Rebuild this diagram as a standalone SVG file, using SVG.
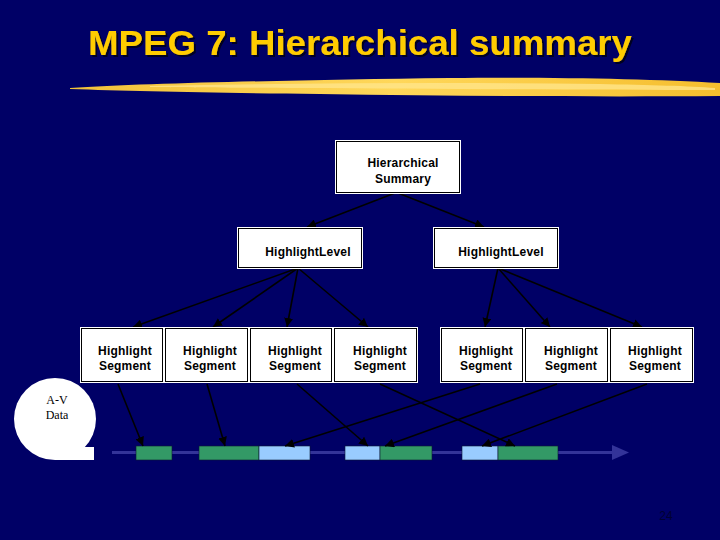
<svg xmlns="http://www.w3.org/2000/svg" width="720" height="540" viewBox="0 0 720 540">
<defs>
<style>
.box-o{fill:#fff;}
.box-i{fill:#fff;stroke:#000;stroke-width:1;}
.lbl{font-family:"Liberation Sans",Arial,sans-serif;font-size:12px;font-weight:bold;fill:#000;text-anchor:middle;letter-spacing:0.2px;}
.con{stroke:#000;stroke-width:1.6;fill:none;marker-end:url(#ah);}
.g{fill:#339966;stroke:#0a1a33;stroke-width:0.6;}
.b{fill:#99CCFF;stroke:#0a1a33;stroke-width:0.6;}
.av{font-family:"Liberation Serif","Times New Roman",serif;font-size:12px;fill:#000;text-anchor:middle;}
</style>
<marker id="ah" viewBox="0 0 10 10" refX="10" refY="5" markerWidth="9" markerHeight="9" markerUnits="userSpaceOnUse" orient="auto">
<path d="M0,0 L10,5 L0,10 Z" fill="#000"/>
</marker>
<filter id="shadow" x="-5%" y="-20%" width="110%" height="150%">
<feDropShadow dx="2" dy="2" stdDeviation="0.5" flood-color="#000022" flood-opacity="1"/>
</filter>
<linearGradient id="brush" x1="0" y1="0" x2="1" y2="0">
<stop offset="0" stop-color="#F2C23A"/>
<stop offset="0.5" stop-color="#FFD75A"/>
<stop offset="1" stop-color="#F5BE2E"/>
</linearGradient>
</defs>
<rect x="0" y="0" width="720" height="540" fill="#000066"/>

<g id="title">
<text x="88" y="55" font-family="'Liberation Sans',Arial,sans-serif" font-size="35" font-weight="bold" fill="#FFCC00" textLength="544" lengthAdjust="spacingAndGlyphs" filter="url(#shadow)">MPEG 7: Hierarchical summary</text>
</g>
<g id="brush-stroke">
<path d="M70,88 C150,83 300,80 450,78 C560,77 650,79 720,83 L720,96 C600,97 460,96 320,94 C210,93 130,91 70,89 Z" fill="url(#brush)"/>
<path d="M150,86 C300,83 450,82 600,84 C650,85 690,86 715,88 L715,90 C600,90 450,89 300,88 C230,88 180,87 150,87 Z" fill="#FFE58A" opacity="0.8"/>
</g>

<g id="connectors">
<line class="con" x1="395" y1="193" x2="307" y2="227"/>
<line class="con" x1="398" y1="193" x2="484" y2="227"/>
<line class="con" x1="298" y1="268" x2="133" y2="327"/>
<line class="con" x1="298" y1="268" x2="213" y2="327"/>
<line class="con" x1="298" y1="268" x2="287" y2="327"/>
<line class="con" x1="298" y1="268" x2="368" y2="327"/>
<line class="con" x1="498" y1="268" x2="485" y2="327"/>
<line class="con" x1="498" y1="268" x2="550" y2="327"/>
<line class="con" x1="498" y1="268" x2="642" y2="327"/>
</g>

<g id="hierarchical-summary">
<rect class="box-o" x="335" y="140" width="126" height="54"/>
<rect class="box-i" x="336.5" y="141.5" width="123" height="51"/>
<text class="lbl" x="403" y="167">Hierarchical</text>
<text class="lbl" x="403" y="183">Summary</text>
</g>
<g id="level-1">
<rect class="box-o" x="237" y="227" width="126" height="42"/>
<rect class="box-i" x="238.5" y="228.5" width="123" height="39"/>
<text class="lbl" x="308" y="256">HighlightLevel</text>
</g>
<g id="level-2">
<rect class="box-o" x="433" y="227" width="126" height="42"/>
<rect class="box-i" x="434.5" y="228.5" width="123" height="39"/>
<text class="lbl" x="501" y="256">HighlightLevel</text>
</g>

<g id="segment-1">
<rect class="box-o" x="80" y="327" width="84" height="56"/>
<rect class="box-i" x="81.5" y="328.5" width="81" height="53"/>
<text class="lbl" x="125" y="355">Highlight</text>
<text class="lbl" x="125" y="370">Segment</text>
</g>
<g id="segment-2">
<rect class="box-o" x="164" y="327" width="85" height="56"/>
<rect class="box-i" x="165.5" y="328.5" width="82" height="53"/>
<text class="lbl" x="210" y="355">Highlight</text>
<text class="lbl" x="210" y="370">Segment</text>
</g>
<g id="segment-3">
<rect class="box-o" x="249" y="327" width="84" height="56"/>
<rect class="box-i" x="250.5" y="328.5" width="81" height="53"/>
<text class="lbl" x="295" y="355">Highlight</text>
<text class="lbl" x="295" y="370">Segment</text>
</g>
<g id="segment-4">
<rect class="box-o" x="333" y="327" width="85" height="56"/>
<rect class="box-i" x="334.5" y="328.5" width="82" height="53"/>
<text class="lbl" x="380" y="355">Highlight</text>
<text class="lbl" x="380" y="370">Segment</text>
</g>
<g id="segment-5">
<rect class="box-o" x="440" y="327" width="84" height="56"/>
<rect class="box-i" x="441.5" y="328.5" width="81" height="53"/>
<text class="lbl" x="486" y="355">Highlight</text>
<text class="lbl" x="486" y="370">Segment</text>
</g>
<g id="segment-6">
<rect class="box-o" x="524" y="327" width="85" height="56"/>
<rect class="box-i" x="525.5" y="328.5" width="82" height="53"/>
<text class="lbl" x="571" y="355">Highlight</text>
<text class="lbl" x="571" y="370">Segment</text>
</g>
<g id="segment-7">
<rect class="box-o" x="609" y="327" width="85" height="56"/>
<rect class="box-i" x="610.5" y="328.5" width="82" height="53"/>
<text class="lbl" x="655" y="355">Highlight</text>
<text class="lbl" x="655" y="370">Segment</text>
</g>

<g id="av-data">
<circle cx="55" cy="419" r="41" fill="#fff"/>
<rect x="55" y="447" width="39" height="13" fill="#fff"/>
<text class="av" x="57" y="404">A-V</text>
<text class="av" x="57" y="419">Data</text>
</g>

<g id="timeline">
<line x1="112" y1="452.5" x2="615" y2="452.5" stroke="#333399" stroke-width="3"/>
<path d="M612,445 L629,452.5 L612,460 Z" fill="#333399"/>
<rect class="g" x="136" y="446" width="36" height="14"/>
<rect class="g" x="199" y="446" width="60" height="14"/>
<rect class="b" x="259" y="446" width="51" height="14"/>
<rect class="b" x="345" y="446" width="35" height="14"/>
<rect class="g" x="380" y="446" width="52" height="14"/>
<rect class="b" x="462" y="446" width="36" height="14"/>
<rect class="g" x="498" y="446" width="60" height="14"/>
</g>

<g id="lower-connectors">
<line class="con" x1="118" y1="384" x2="143" y2="446"/>
<line class="con" x1="207" y1="384" x2="225" y2="446"/>
<line class="con" x1="297" y1="384" x2="368" y2="446"/>
<line class="con" x1="380" y1="384" x2="515" y2="446"/>
<line class="con" x1="480" y1="384" x2="285" y2="446"/>
<line class="con" x1="557" y1="384" x2="385" y2="446"/>
<line class="con" x1="647" y1="384" x2="482" y2="446"/>
</g>

<text x="666" y="520" font-family="'Liberation Sans',Arial,sans-serif" font-size="12" fill="#000033" text-anchor="middle">24</text>
</svg>
